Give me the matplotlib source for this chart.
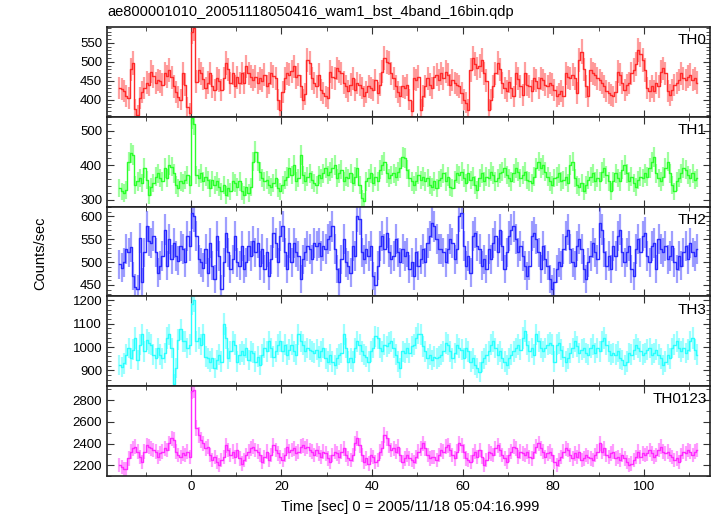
import numpy as np
import matplotlib
matplotlib.use("Agg")
import matplotlib.pyplot as plt
from matplotlib.ticker import MultipleLocator

plt.rcParams['font.family'] = ['Liberation Sans', 'DejaVu Sans']

title = "ae800001010_20051118050416_wam1_bst_4band_16bin.qdp"
xlabel = "Time [sec] 0 = 2005/11/18 05:04:16.999"
ylabel = "Counts/sec"

t_start = -15.75   # centre of first bin [s]
bin_size = 0.5     # 16 x 1/32 s

th0 = [
    431, 428, 422, 410, 404, 480, 497, 375, 360, 404,
    420, 430, 445, 440, 474, 462, 444, 452, 449, 440,
    470, 462, 479, 460, 435, 420, 408, 400, 470, 440,
    380, 365, 580, 590, 448, 479, 470, 455, 430, 445,
    470, 435, 426, 457, 450, 426, 457, 497, 480, 444,
    470, 435, 460, 444, 470, 444, 488, 470, 461, 452,
    461, 444, 457, 450, 466, 435, 444, 470, 462, 457,
    400, 373, 420, 457, 470, 466, 475, 488, 460, 466,
    435, 400, 415, 505, 496, 457, 444, 435, 466, 426,
    417, 409, 404, 474, 460, 457, 483, 475, 470, 445,
    435, 422, 440, 457, 426, 444, 439, 430, 409, 420,
    435, 430, 426, 452, 417, 440, 474, 510, 500, 496,
    470, 457, 435, 420, 409, 435, 431, 439, 400, 369,
    457, 452, 461, 374, 410, 435, 457, 440, 431, 460,
    466, 452, 470, 457, 474, 466, 439, 452, 444, 440,
    435, 417, 400, 392, 374, 479, 510, 495, 483, 490,
    505, 470, 450, 374, 400, 435, 470, 496, 480, 444,
    430, 422, 448, 430, 409, 470, 455, 435, 413, 470,
    440, 435, 422, 457, 450, 431, 457, 452, 440, 435,
    444, 440, 426, 409, 415, 422, 409, 470, 460, 457,
    466, 457, 417, 505, 527, 480, 435, 409, 479, 470,
    466, 457, 452, 444, 435, 422, 417, 413, 409, 420,
    474, 466, 444, 426, 439, 444, 470, 479, 495, 531,
    520, 505, 479, 431, 422, 435, 422, 444, 435, 474,
    483, 470, 422, 413, 426, 439, 444, 452, 470, 457,
    452, 461, 466, 452, 457, 445,
]

th1 = [
    334, 324, 319, 329, 411, 435, 430, 343, 353, 363,
    348, 392, 358, 314, 338, 348, 367, 377, 363, 353,
    392, 363, 401, 396, 377, 343, 334, 353, 348, 358,
    372, 343, 537, 520, 372, 363, 377, 353, 367, 358,
    334, 358, 343, 353, 338, 324, 343, 314, 334, 324,
    353, 348, 338, 353, 324, 314, 338, 319, 338, 411,
    440, 411, 382, 363, 353, 358, 343, 338, 348, 363,
    334, 324, 343, 358, 367, 392, 372, 401, 353, 363,
    430, 372, 353, 367, 377, 358, 348, 343, 372, 363,
    377, 392, 372, 382, 392, 401, 363, 377, 387, 353,
    367, 363, 377, 348, 367, 392, 343, 305, 295, 353,
    363, 377, 348, 367, 353, 387, 401, 411, 377, 363,
    372, 377, 367, 382, 392, 425, 421, 387, 363, 353,
    343, 353, 372, 358, 367, 353, 363, 343, 338, 353,
    334, 358, 363, 377, 353, 367, 338, 334, 358, 377,
    372, 382, 363, 348, 377, 358, 367, 343, 329, 363,
    377, 353, 367, 363, 382, 372, 353, 363, 377, 382,
    392, 372, 363, 353, 377, 392, 382, 363, 372, 382,
    358, 353, 348, 367, 392, 411, 392, 401, 382, 367,
    353, 343, 363, 367, 377, 353, 358, 367, 348, 401,
    411, 363, 343, 338, 348, 324, 343, 358, 367, 377,
    353, 363, 353, 382, 392, 372, 353, 324, 353, 377,
    363, 353, 387, 401, 377, 353, 367, 348, 338, 358,
    367, 363, 377, 367, 392, 410, 425, 377, 363, 353,
    367, 392, 411, 377, 343, 324, 353, 363, 377, 392,
    387, 372, 363, 377, 358, 363,
]

th2 = [
    495, 488, 499, 528, 521, 532, 470, 445, 441, 553,
    456, 521, 578, 546, 542, 557, 521, 477, 492, 513,
    571, 492, 550, 506, 542, 513, 503, 535, 528, 499,
    557, 535, 607, 600, 557, 506, 499, 488, 528, 477,
    542, 492, 463, 557, 513, 441, 499, 564, 521, 485,
    506, 557, 499, 492, 535, 485, 499, 535, 513, 546,
    521, 542, 492, 528, 485, 521, 470, 506, 564, 542,
    499, 557, 578, 521, 485, 542, 499, 542, 521, 513,
    463, 506, 521, 535, 528, 506, 542, 535, 542, 513,
    535, 528, 550, 557, 578, 528, 485, 456, 506, 550,
    499, 492, 477, 535, 513, 600, 593, 521, 506, 528,
    513, 535, 470, 449, 492, 535, 557, 528, 564, 521,
    506, 513, 550, 521, 499, 528, 513, 521, 485, 499,
    470, 521, 492, 506, 528, 499, 542, 557, 586, 578,
    550, 528, 528, 521, 499, 528, 550, 542, 506, 528,
    600, 607, 535, 492, 513, 477, 557, 564, 535, 528,
    492, 506, 485, 528, 506, 542, 557, 521, 571, 535,
    485, 521, 557, 571, 578, 550, 521, 535, 513, 492,
    470, 492, 557, 564, 550, 521, 485, 535, 506, 492,
    463, 441, 456, 485, 499, 492, 528, 557, 571, 528,
    499, 492, 535, 550, 528, 485, 463, 499, 513, 542,
    521, 506, 586, 571, 521, 492, 513, 485, 535, 513,
    557, 571, 521, 499, 521, 535, 485, 470, 528, 550,
    521, 557, 564, 513, 499, 535, 542, 485, 550, 528,
    521, 535, 506, 513, 535, 499, 485, 513, 492, 521,
    535, 506, 542, 521, 513, 528,
]

th3 = [
    923, 916, 930, 967, 996, 952, 988, 1039, 945, 1010,
    1054, 981, 1032, 1017, 1010, 967, 952, 996, 967, 952,
    974, 1039, 1054, 996, 843, 909, 1032, 1075, 1025, 1025,
    996, 1010, 1184, 1199, 1025, 1039, 1010, 1054, 959, 952,
    938, 952, 909, 945, 967, 938, 1097, 1039, 952, 981,
    1025, 1010, 938, 967, 981, 967, 996, 945, 981, 974,
    938, 959, 923, 967, 996, 981, 1025, 996, 959, 981,
    1010, 1025, 981, 1010, 967, 988, 1010, 981, 967, 1054,
    1025, 1010, 981, 996, 988, 981, 974, 988, 959, 981,
    996, 952, 938, 967, 938, 923, 952, 967, 974, 1054,
    996, 938, 952, 938, 996, 1025, 1010, 981, 967, 959,
    938, 981, 996, 1046, 1039, 996, 981, 1010, 1003, 1017,
    1025, 996, 967, 938, 909, 981, 974, 996, 974, 1003,
    1010, 1039, 1057, 1054, 1003, 981, 952, 967, 945, 959,
    952, 959, 967, 981, 1017, 1010, 981, 952, 974, 1010,
    996, 988, 952, 996, 981, 938, 952, 923, 909, 894,
    938, 952, 967, 981, 1010, 1025, 996, 967, 981, 952,
    938, 923, 952, 967, 981, 996, 1010, 988, 1039, 1068,
    1010, 981, 996, 967, 1054, 1025, 996, 981, 996, 1010,
    1017, 1010, 938, 1010, 1017, 988, 959, 938, 952, 974,
    996, 1025, 1003, 974, 988, 996, 974, 967, 996, 1010,
    974, 996, 981, 1025, 1039, 1010, 981, 967, 974, 967,
    981, 952, 945, 923, 938, 974, 967, 988, 1010, 996,
    981, 967, 974, 988, 996, 967, 974, 988, 967, 952,
    923, 938, 967, 952, 996, 1010, 1025, 996, 981, 996,
    974, 988, 1025, 1039, 988, 967,
]

th0123 = [
    2200, 2184, 2168, 2168, 2262, 2324, 2355, 2371, 2324, 2277,
    2231, 2324, 2386, 2371, 2355, 2340, 2324, 2277, 2308, 2324,
    2355, 2340, 2402, 2448, 2433, 2324, 2293, 2277, 2308, 2293,
    2324, 2277, 2884, 2899, 2542, 2479, 2433, 2402, 2355, 2371,
    2293, 2246, 2277, 2231, 2200, 2246, 2277, 2386, 2340, 2293,
    2324, 2277, 2340, 2262, 2215, 2246, 2293, 2324, 2355, 2371,
    2340, 2324, 2293, 2231, 2277, 2324, 2246, 2293, 2386, 2340,
    2308, 2277, 2246, 2293, 2371, 2324, 2340, 2355, 2308, 2324,
    2371, 2386, 2355, 2371, 2340, 2324, 2293, 2340, 2308, 2277,
    2324, 2308, 2262, 2231, 2293, 2324, 2308, 2277, 2324, 2355,
    2293, 2262, 2246, 2293, 2402, 2448, 2386, 2293, 2231, 2262,
    2215, 2293, 2277, 2231, 2246, 2324, 2355, 2479, 2448, 2386,
    2340, 2355, 2324, 2371, 2293, 2231, 2262, 2293, 2262, 2246,
    2231, 2277, 2324, 2355, 2402, 2355, 2293, 2262, 2277, 2277,
    2246, 2293, 2340, 2324, 2371, 2386, 2340, 2293, 2262, 2324,
    2402, 2386, 2324, 2262, 2246, 2231, 2293, 2324, 2277, 2340,
    2277, 2200, 2246, 2324, 2308, 2293, 2355, 2386, 2340, 2293,
    2262, 2231, 2293, 2324, 2371, 2355, 2277, 2324, 2308, 2293,
    2324, 2277, 2262, 2324, 2371, 2402, 2355, 2324, 2277, 2308,
    2324, 2293, 2231, 2200, 2246, 2277, 2324, 2355, 2340, 2293,
    2262, 2308, 2277, 2324, 2246, 2262, 2293, 2277, 2262, 2246,
    2293, 2324, 2402, 2324, 2355, 2293, 2277, 2308, 2324, 2262,
    2277, 2246, 2293, 2262, 2231, 2200, 2215, 2246, 2277, 2324,
    2277, 2308, 2293, 2308, 2340, 2308, 2277, 2293, 2340, 2371,
    2324, 2308, 2324, 2293, 2277, 2246, 2262, 2231, 2293, 2324,
    2308, 2340, 2324, 2293, 2324, 2340,
]

names = ["TH0", "TH1", "TH2", "TH3", "TH0123"]
series = [th0, th1, th2, th3, th0123]
colors = ["#ff2a2a", "#2aff2a", "#2a2aff", "#2affff", "#ff2aff"]
ylims = [(355, 592), (280, 541), (425, 621), (833, 1216), (2100, 2930)]
yticks = [[400, 450, 500, 550], [300, 400, 500], [450, 500, 550, 600],
          [900, 1000, 1100, 1200], [2200, 2400, 2600, 2800]]
yminor = [10, 20, 10, 20, 100]

fig = plt.figure(figsize=(7.17, 5.16), dpi=100)
gs = fig.add_gridspec(5, 1, left=107/717, right=710/717,
                      top=1-27/516, bottom=1-476/516, hspace=0)

for i, (name, y) in enumerate(zip(names, series)):
    ax = fig.add_subplot(gs[i])
    y = np.array(y, dtype=float)
    t = t_start + bin_size*np.arange(len(y))
    err = np.sqrt(y*bin_size)/bin_size
    ax.errorbar(t, y, yerr=err, fmt='none', ecolor=colors[i], alpha=0.45,
                elinewidth=1.6)
    ax.step(t, y, where='mid', color=colors[i], lw=1.0)
    ax.set_xlim(-18.5, 114.6)
    ax.set_ylim(*ylims[i])
    ax.set_yticks(yticks[i])
    ax.yaxis.set_minor_locator(MultipleLocator(yminor[i]))
    ax.xaxis.set_major_locator(MultipleLocator(20))
    ax.xaxis.set_minor_locator(MultipleLocator(10))
    ax.tick_params(which='both', direction='in', top=True, right=True,
                   labelsize=9.5, color='#333333')
    ax.tick_params(which='major', length=5)
    ax.tick_params(which='minor', length=3)
    for sp in ax.spines.values():
        sp.set_linewidth(1.2)
        sp.set_color('#222222')
    if i < 4:
        ax.tick_params(labelbottom=False)
    ax.text(0.995, 0.93, name, transform=ax.transAxes, ha='right', va='top',
            fontsize=11)

fig.text(107/717, 1-12/516, title, ha='left', va='center', fontsize=10.5)
fig.text(410/717, 1-507/516, xlabel, ha='center', va='center', fontsize=10.5)
fig.text(40/717, 0.51, ylabel, rotation=90, ha='center', va='center',
         fontsize=10.5)

fig.savefig("out.png", dpi=100)
